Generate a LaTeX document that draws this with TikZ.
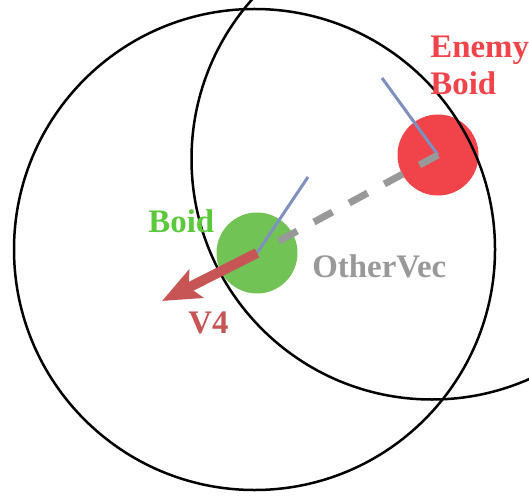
\documentclass[tikz,border=0pt]{standalone}
\usepackage{fontspec}
\setmainfont{Liberation Serif}
\usetikzlibrary{arrows.meta}

\definecolor{boidgreen}{RGB}{114,195,85}
\definecolor{labelgreen}{RGB}{92,200,60}
\definecolor{enemyred}{RGB}{240,67,74}
\definecolor{arrowred}{RGB}{200,85,85}
\definecolor{headblue}{RGB}{128,144,190}
\definecolor{vecgray}{RGB}{153,153,153}

\tikzset{
  boidbody/.style={circle, minimum size=81bp, inner sep=0pt},
  lbl/.style={font=\bfseries\fontsize{33}{38}\selectfont, inner sep=0pt, anchor=base west, align=left}
}

\begin{document}
\begin{tikzpicture}[x=1bp, y=-1bp, thick]
  \useasboundingbox (0,0) rectangle (529,498);
  \clip (0,0) rectangle (529,498);

  \node[boidbody, fill=enemyred]  (enemy) at (438,155) {};
  \node[boidbody, fill=boidgreen] (boid)  at (257,253) {};

  \coordinate (boidview)  at (254.5,249.5);
  \coordinate (enemyview) at (432,159);
  \coordinate (enemyhead) at (382,78);
  \coordinate (boidhead)  at (308,177);
  \coordinate (otherend)  at (277,242);
  \coordinate (v4tip)     at (162,301);

  % view ranges
  \foreach \v in {boidview,enemyview} \draw[line width=2.5bp] (\v) circle (240.5);

  % headings
  \draw[headblue, line width=3bp] (enemy.center) -- (enemyhead);
  \draw[headblue, line width=3bp] (boid.center) -- (boidhead);

  \draw[vecgray, line width=7bp, dash pattern=on 21bp off 19bp] (enemy.center) -- (otherend);
  \draw[arrowred, line width=10bp, -{Stealth[length=38bp, width=31bp, inset=8bp]}] (boid.center) -- (v4tip);

  \node[lbl, text=labelgreen] (boidlabel)  at (148,232) {Boid};
  \node[lbl, text=vecgray]    (otherlabel) at (312,277) {OtherVec};
  \node[lbl, text=arrowred]   (v4label)    at (188,333) {V4};
  \node[lbl, text=enemyred]   (enemylabel) at (430,95)  {Enemy\\Boid};
\end{tikzpicture}
\end{document}
